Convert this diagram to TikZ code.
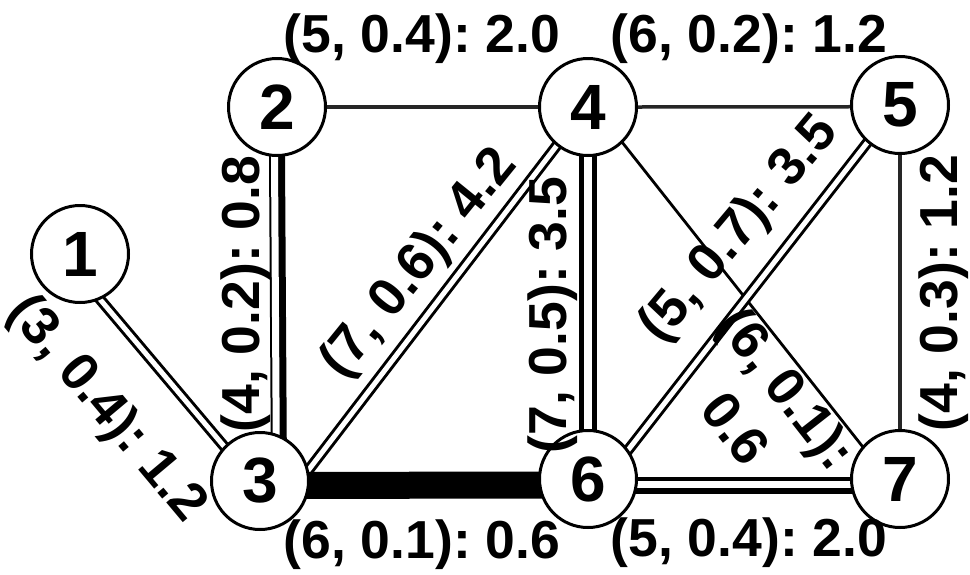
\documentclass[tikz,border=0pt]{standalone}
\usepackage{fontspec}
\setmainfont{Liberation Sans}
\pgfdeclarelayer{edgelayer}
\pgfsetlayers{edgelayer,main}
\newcommand\labfont{\fontsize{53.5}{66}\selectfont\bfseries\frenchspacing}
\newcommand\nodfont{\fontsize{64}{64}\selectfont\bfseries}
\begin{document}
\begin{tikzpicture}[x=1pt,y=-1pt,
  vtx/.style={circle,draw=black,line width=3pt,fill=white,minimum size=97pt,inner sep=0pt,font=\nodfont},
  lab/.style={inner sep=0pt,font=\labfont},
  ext/.style={shorten <=-8pt,shorten >=-8pt},
  sgl/.style={ext,draw=black!85,line width=3.5pt},
  thin/.style={ext,draw=black,line width=2.8pt},
  dbl/.style={ext,draw=black,line width=3pt,double=white,double distance=5pt},
  dblthick/.style={ext,draw=black,line width=5pt,double=white,double distance=8pt},
  blk/.style={ext,draw=black},
  wht/.style={ext,draw=white}]
\useasboundingbox (0,0) rectangle (970,574);

\node[vtx] (n1) at (80,254) {1};
\node[vtx] (n2) at (277,107) {2};
\node[vtx] (n3) at (260,481) {3};
\node[vtx] (n4) at (588,107) {4};
\node[vtx] (n5) at (900,105) {5};
\node[vtx] (n6) at (588,479) {6};
\node[vtx] (n7) at (900,479) {7};

\begin{pgfonlayer}{edgelayer}
  \fill[white] (0,0) rectangle (970,574);
  \draw[dbl] (n1.-66) -- (n3.136);
  % 2-3 asymmetric double
  \draw[blk,line width=16pt] (n2.-90) -- (n3.68);
  \draw[wht,line width=7pt,transform canvas={xshift=-2.5pt}] (n2.-90) -- (n3.68);
  \draw[sgl] (n2.east) -- (n4.west);
  \draw[dbl] (n3.13) -- (n4.-129);
  \draw[blk,line width=27pt] (n3.-5) -- (n6.187);
  \draw[dblthick] (n4.south) -- (n6.north);
  \draw[sgl] (n4.east) -- (n5.182);
  \draw[thin] (n4.-46) -- (n7.139);
  \draw[dbl] (n5.229) -- (n6.36);
  \draw[sgl] (n5.south) -- (n7.north);
  % 6-7 asymmetric double
  \draw[blk,line width=17pt] (n6.-7) -- (n7.187);
  \draw[wht,line width=7pt,transform canvas={yshift=1pt}] (n6.-7) -- (n7.187);
\end{pgfonlayer}

\node[lab,anchor=base] (l24) at (422,52) {(5, 0.4): 2.0};
\node[lab,anchor=base] (l45) at (749,52) {(6, 0.2): 1.2};
\node[lab,anchor=base] (l36) at (422,558) {(6, 0.1): 0.6};
\node[lab,anchor=base] (l67) at (749,556) {(5, 0.4): 2.0};
\node[lab,rotate=90] (l23) at (246,294) {(4, 0.2): 0.8};
\node[lab,rotate=90] (l46) at (553,315) {(7, 0.5): 3.5};
\node[lab,rotate=90] (l57) at (944,293) {(4, 0.3): 1.2};
\node[lab,rotate=-50] (l13) at (106,410) {(3, 0.4): 1.2};
\node[lab,rotate=51] (l34) at (420,264) {(7, 0.6): 4.2};
\node[lab,rotate=50] (l56) at (740,230) {(5, 0.7): 3.5};
\node[lab,rotate=-52,align=center] (l47) at (762,408) {(6, 0.1):\\0.6};
\end{tikzpicture}
\end{document}
